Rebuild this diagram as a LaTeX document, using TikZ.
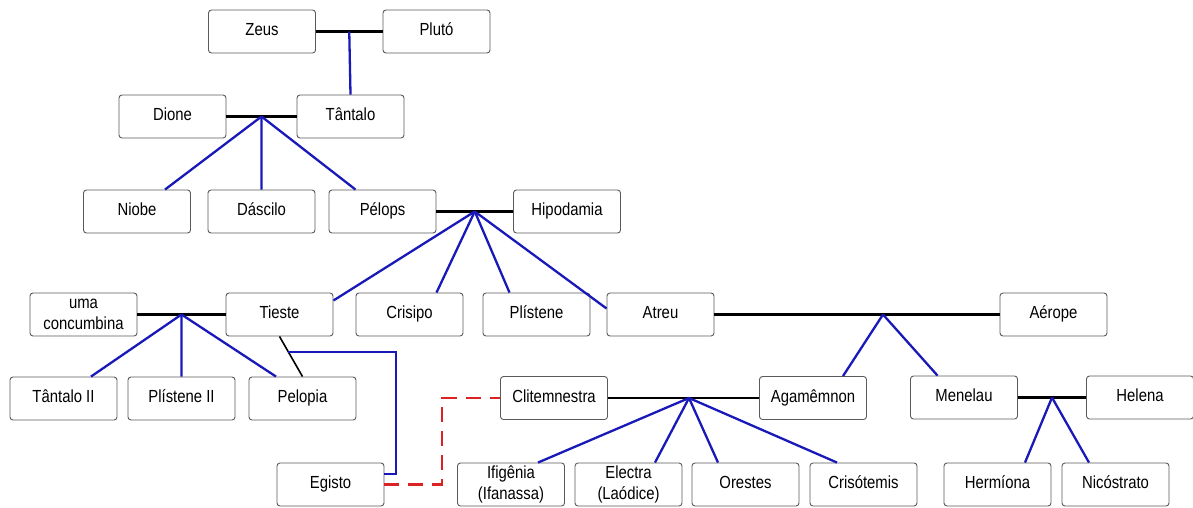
\documentclass[tikz,border=0pt]{standalone}
\usepackage{fontspec}
\setmainfont{Liberation Sans}
\usetikzlibrary{calc}
\newcommand{\T}[1]{\scalebox{0.85}[1]{\begin{tabular}{@{}c@{}}#1\end{tabular}}}
\definecolor{lblue}{RGB}{25,25,185}
\definecolor{lred}{RGB}{220,35,35}
\definecolor{boxgray}{RGB}{90,90,90}
\begin{document}
\begin{tikzpicture}[x=1pt,y=-1pt,
  person/.style={draw=boxgray,line width=0.9pt,rounded corners=3pt,fill=white,
    minimum width=107pt,minimum height=43pt,inner sep=0pt,align=center,
    font=\fontsize{17.5}{21.5}\selectfont},
  marriage/.style={black,line width=2.8pt},
  child/.style={lblue,line width=2.3pt},
  thinblack/.style={black,line width=1.6pt},
  affair/.style={lred,line width=2.3pt,dash pattern=on 15pt off 9pt}]
\useasboundingbox (0,0) rectangle (1193,507);
% row 1
\node[person] (zeus) at (262,31.5) {\T{Zeus}};
\node[person] (pluto) at (436.5,31.5) {\T{Plutó}};
% row 2
\node[person] (dione) at (172.5,116.5) {\T{Dione}};
\node[person] (tantalo) at (350.5,116.5) {\T{Tântalo}};
% row 3
\node[person] (niobe) at (137,211.5) {\T{Niobe}};
\node[person] (dascilo) at (261.5,211.5) {\T{Dáscilo}};
\node[person] (pelops) at (382.5,211.5) {\T{Pélops}};
\node[person] (hipodamia) at (567,211.5) {\T{Hipodamia}};
% row 4
\node[person] (uma) at (83.5,314.5) {\T{uma\\concumbina}};
\node[person] (tieste) at (279.5,314.5) {\T{Tieste}};
\node[person] (crisipo) at (409.5,314.5) {\T{Crisipo}};
\node[person] (plistene) at (536.5,314.5) {\T{Plístene}};
\node[person] (atreu) at (660.5,314.5) {\T{Atreu}};
\node[person] (aerope) at (1053.5,314.5) {\T{Aérope}};
% row 5
\node[person] (tantaloii) at (63.5,398.5) {\T{Tântalo II}};
\node[person] (plisteneii) at (181.5,398.5) {\T{Plístene II}};
\node[person] (pelopia) at (302.5,398.5) {\T{Pelopia}};
\node[person] (clitem) at (554,398) {\T{Clitemnestra}};
\node[person] (agam) at (813,398) {\T{Agamêmnon}};
\node[person] (menelau) at (964,397.5) {\T{Menelau}};
\node[person] (helena) at (1140,397.5) {\T{Helena}};
% row 6
\node[person] (egisto) at (330.5,484.5) {\T{Egisto}};
\node[person] (ifig) at (511,484.5) {\T{Ifigênia\\(Ifanassa)}};
\node[person] (electra) at (628.5,484.5) {\T{Electra\\(Laódice)}};
\node[person] (orestes) at (745.5,484.5) {\T{Orestes}};
\node[person] (crisot) at (863.5,484.5) {\T{Crisótemis}};
\node[person] (hermiona) at (997.5,484.5) {\T{Hermíona}};
\node[person] (nicos) at (1115.5,484.5) {\T{Nicóstrato}};
% marriage points
\coordinate (m1) at ($(zeus.east)!0.5!(pluto.west)$);
\coordinate (m2) at ($(dione.east)!0.5!(tantalo.west)$);
\coordinate (m3) at ($(pelops.east)!0.5!(hipodamia.west)$);
\coordinate (m4) at ($(uma.east)!0.5!(tieste.west)$);
\coordinate (m5) at (883,314.5);
\coordinate (m6) at (689,398);
\coordinate (m7) at ($(menelau.east)!0.5!(helena.west)$);
% marriages
\draw[marriage] (zeus.east) -- (pluto.west);
\draw[marriage] (dione.east) -- (tantalo.west);
\draw[marriage] (pelops.east) -- (hipodamia.west);
\draw[marriage] (uma.east) -- (tieste.west);
\draw[marriage] (atreu.east) -- (aerope.west);
\draw[marriage] (clitem.east) -- (agam.west);
\draw[marriage] (menelau.east) -- (helena.west);
% children
\draw[child] (m1) -- (tantalo.north);
\draw[child] (m2) -- ([xshift=28pt]niobe.north);
\draw[child] (m2) -- (dascilo.north);
\draw[child] (m2) -- ([xshift=-27pt]pelops.north);
\draw[child] (m3) -- ([yshift=14pt]tieste.east);
\draw[child] (m3) -- ([xshift=27pt]crisipo.north);
\draw[child] (m3) -- ([xshift=-27pt]plistene.north);
\draw[child] (m3) -- ([yshift=6pt]atreu.west);
\draw[child] (m4) -- ([xshift=27.5pt]tantaloii.north);
\draw[child] (m4) -- (plisteneii.north);
\draw[child] (m4) -- ([xshift=-26.5pt]pelopia.north);
\draw[child] (m5) -- ([xshift=30pt]agam.north);
\draw[child] (m5) -- ([xshift=-26.5pt]menelau.north);
\draw[child] (m6) -- ([xshift=27pt]ifig.north);
\draw[child] (m6) -- ([xshift=26.5pt]electra.north);
\draw[child] (m6) -- ([xshift=-27.5pt]orestes.north);
\draw[child] (m6) -- ([xshift=-26.5pt]crisot.north);
\draw[child] (m7) -- ([xshift=27.5pt]hermiona.north);
\draw[child] (m7) -- ([xshift=-26.5pt]nicos.north);
% Tieste - Pelopia - Egisto
\draw[thinblack] (tieste.south) -- (pelopia.north);
\coordinate (tp) at ($(tieste.south)!0.39!(pelopia.north)$);
\coordinate (eg) at ([yshift=10.5pt]egisto.east);
\draw[child] (tp) -- (tp -| 396,0) -- (eg -| 396,0) -- (eg);
% Egisto - Clitemnestra affair
\coordinate (ea) at (egisto.east);
\draw[affair] (ea) -- (ea -| 442,0) -- (clitem.west -| 442,0) -- (clitem.west);
\end{tikzpicture}
\end{document}
